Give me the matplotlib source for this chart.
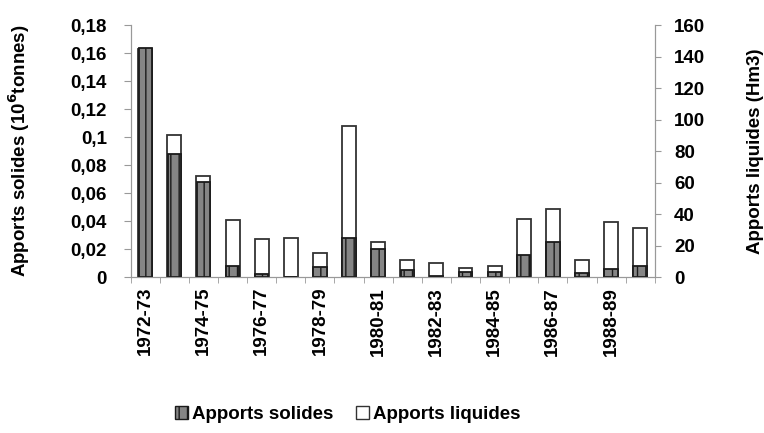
import matplotlib
matplotlib.use("Agg")
import matplotlib.pyplot as plt
from matplotlib.ticker import FuncFormatter, MultipleLocator
from matplotlib.patches import Patch
import numpy as np

plt.rcParams['font.family'] = ['Liberation Sans', 'DejaVu Sans']
plt.rcParams['font.weight'] = 'bold'

# Hydrological years
years = ["1972-73", "1973-74", "1974-75", "1975-76", "1976-77", "1977-78",
         "1978-79", "1979-80", "1980-81", "1981-82", "1982-83", "1983-84",
         "1984-85", "1985-86", "1986-87", "1987-88", "1988-89", "1989-90"]
# Apports solides (10^6 tonnes), left axis
solides = [0.164, 0.088, 0.068, 0.008, 0.002, 0.0, 0.007, 0.028, 0.020,
           0.005, 0.001, 0.004, 0.004, 0.016, 0.025, 0.003, 0.006, 0.008]
# Apports liquides (Hm3), right axis
liquides = [145, 90, 64, 36, 24, 25, 15, 96, 22,
            11, 9, 6, 7, 37, 43, 11, 35, 31]

x = np.arange(len(years))

fig = plt.figure(figsize=(7.64, 4.33), dpi=100)
ax = fig.add_axes([0.171, 0.360, 0.686, 0.582])
ax2 = ax.twinx()

# liquid bars behind, solid bars on top
ax2.bar(x, liquides, width=0.48, color="white", edgecolor="#333333", linewidth=1.3, zorder=1)
ax.set_zorder(ax2.get_zorder() + 1)
ax.patch.set_visible(False)
ax.bar(x, solides, width=0.46, color="#858585", edgecolor="#1a1a1a", linewidth=1.3,
       hatch="||", zorder=2)

ax.set_ylim(0, 0.18)
ax.yaxis.set_major_locator(MultipleLocator(0.02))
ax.yaxis.set_major_formatter(FuncFormatter(lambda v, p: ("%g" % round(v, 2)).replace(".", ",")))
ax2.set_ylim(0, 160)
ax2.yaxis.set_major_locator(MultipleLocator(20))

ax.set_xlim(-0.5, len(years) - 0.5)
ax.set_xticks(x[::2])
ax.set_xticklabels(years[::2], rotation=90, fontsize=13.5)
ax.set_xticks(np.arange(-0.5, len(years)), minor=True)
ax.tick_params(axis="x", which="major", length=0, pad=7)
ax.tick_params(axis="x", which="minor", length=4, color="#999999")
ax.tick_params(axis="y", labelsize=13.5, length=5, color="#999999", pad=12)
ax2.tick_params(axis="y", labelsize=13.5, length=4, color="#999999", pad=10)

for a in (ax, ax2):
    a.spines["top"].set_visible(False)
    for s in ("left", "right", "bottom"):
        a.spines[s].set_color("#999999")

ax.set_ylabel("Apports solides (10$^6$tonnes)", fontsize=13.5, fontweight="bold", labelpad=28)
ax2.set_ylabel("Apports liquides (Hm3)", fontsize=13.5, fontweight="bold", rotation=90, labelpad=30)

handles = [Patch(facecolor="#858585", edgecolor="#1a1a1a", hatch="||", label="Apports solides"),
           Patch(facecolor="white", edgecolor="#333333", label="Apports liquides")]
fig.legend(handles=handles, loc="center", bbox_to_anchor=(0.455, 0.042), ncol=2, frameon=False,
           fontsize=13.5, handlelength=0.7, handleheight=0.7, handletextpad=0.2, columnspacing=1.2)

fig.savefig("out.png", dpi=100)
